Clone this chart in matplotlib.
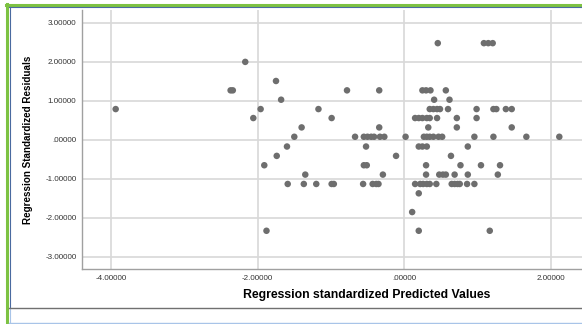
import matplotlib.pyplot as plt
from matplotlib.lines import Line2D
from matplotlib.ticker import FuncFormatter
import numpy as np

plt.rcParams['font.family'] = ['Liberation Sans', 'DejaVu Sans']

# standardized residual levels and predicted values found on each level
levels = [2.48, 2.00, 1.51, 1.27, 1.03, 0.79, 0.56, 0.32, 0.08,
          -0.17, -0.41, -0.65, -0.89, -1.13, -1.37, -1.85, -2.33]
pred_by_level = [
    [0.46, 1.09, 1.15, 1.21],
    [-2.17],
    [-1.75],
    [-2.37, -2.34, -0.78, -0.34, 0.25, 0.30, 0.36, 0.57],
    [-1.68, 0.41, 0.62],
    [-3.94, -1.96, -1.17, 0.35, 0.40, 0.45, 0.49, 0.60, 0.99, 1.22, 1.26, 1.39, 1.47],
    [-2.06, -0.99, 0.15, 0.20, 0.25, 0.31, 0.35, 0.45, 0.72, 0.99],
    [-1.40, -0.34, 0.33, 0.72, 1.47],
    [-1.50, -0.67, -0.55, -0.50, -0.45, -0.41, -0.33, -0.27, 0.02, 0.27, 0.31,
     0.35, 0.40, 0.47, 0.52, 0.96, 1.22, 1.67, 2.12],
    [-1.60, -0.52, 0.20, 0.25, 0.31, 0.87],
    [-1.74, -0.11, 0.64],
    [-1.91, -0.55, -0.51, 0.30, 0.77, 1.05, 1.31],
    [-1.35, -0.29, 0.30, 0.48, 0.53, 0.57, 0.69, 0.87, 1.28],
    [-1.59, -1.37, -1.20, -0.99, -0.96, -0.56, -0.43, -0.38, -0.35, 0.15, 0.22,
     0.26, 0.31, 0.35, 0.44, 0.65, 0.69, 0.73, 0.76, 0.86, 0.96],
    [0.20],
    [0.11],
    [-1.88, 0.20, 1.17],
]
xticks = [-4, -2, 0, 2]
yticks = [-3, -2, -1, 0, 1, 2, 3]

x = []
y = []
for lv, preds in zip(levels, pred_by_level):
    for p in preds:
        x.append(p)
        y.append(lv)

def spss_fmt(v, pos=None):
    s = f"{v:.5f}"
    if s in ("0.00000", "-0.00000"):
        s = ".00000"
    return s

fig = plt.figure(figsize=(5.82, 3.24), dpi=100)
ax = fig.add_axes([82/582, 1-269/324, 1-82/582, (269-10)/324])

ax.scatter(x, y, s=22, color='#6e6e6e', edgecolors='none', zorder=3)

ax.set_xlim(-4.40, 2.43)
ax.set_ylim(-3.31, 3.33)
ax.set_xticks(xticks)
ax.set_yticks(yticks)
ax.xaxis.set_major_formatter(FuncFormatter(spss_fmt))
ax.yaxis.set_major_formatter(FuncFormatter(spss_fmt))
ax.grid(True, color='#d8d8d8', linewidth=1.2, zorder=0)
ax.set_axisbelow(True)
ax.tick_params(length=0, labelsize=5.8, labelcolor='#333333', pad=4)

for side in ['top', 'right']:
    ax.spines[side].set_visible(False)
for side in ['left', 'bottom']:
    ax.spines[side].set_color('#a0a0a0')
    ax.spines[side].set_linewidth(1.0)

# the plot is cut off on the right, so the x label sits right of the visible centre
fig.text(367/582, 1-295/324, 'Regression standardized Predicted Values',
         fontsize=8.8, fontweight='bold', ha='center', va='center')
fig.text(28/582, 1-140/324, 'Regression Standardized Residuals', rotation=90,
         fontsize=7.1, fontweight='bold', ha='center', va='center')

# window frame around the chart
W, H = 582, 324
def fline(xs, ys, **kw):
    fig.add_artist(Line2D([v/W for v in xs], [1-v/H for v in ys],
                          transform=fig.transFigure, **kw))

fline([6, 582], [4.5, 4.5], color='#7dc242', linewidth=2.2)
fline([7, 7], [4, 324], color='#7dc242', linewidth=2.2)
fline([9, 582], [7, 7], color='#4a6aa0', linewidth=0.8)
fline([9.5, 9.5], [7, 308], color='#4a6aa0', linewidth=0.8)
fline([9.5, 9.5], [308, 324], color='#a8c4e8', linewidth=0.8)
fline([9, 582], [308, 308], color='#707070', linewidth=1.0)
fline([9, 582], [322.5, 322.5], color='#a8c4e8', linewidth=1.0)

fig.savefig('out.png', dpi=100)
